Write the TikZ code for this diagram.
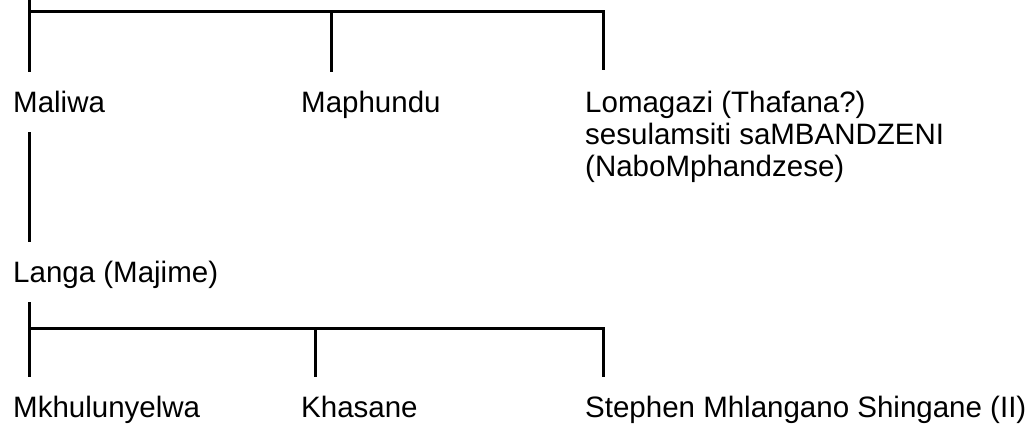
\documentclass[tikz,border=0pt]{standalone}
\usepackage{fontspec}
\setmainfont{Liberation Sans}
\usetikzlibrary{positioning}

\begin{document}
\begin{tikzpicture}[x=1pt, y=-1pt,
  person/.style={anchor=base west, inner xsep=0pt, inner ysep=20pt,
    text height=20pt, text depth=0pt, font=\fontsize{29.5}{32}\selectfont},
  link/.style={line width=3pt}
]
\useasboundingbox (0,0) rectangle (1030,424);

\node[person] (maliwa) at (13,112) {Maliwa};
\node[person] (maphundu) at (301,112) {Maphundu};
\node[person, align=left, text height=, text depth=] (lomagazi) at (585,176) {Lomagazi (Thafana?)\\sesulamsiti saMBANDZENI\\(NaboMphandzese)};
\node[person] (langa) at (13,282) {Langa (Majime)};
\node[person] (mkhulu) at (13,417) {Mkhulunyelwa};
\node[person] (khasane) at (301,417) {Khasane};
\node[person] (stephen) at (585,417) {Stephen Mhlangano Shingane (II)};

\coordinate (root) at (29,0);
\coordinate (bar1) at (29,11);
\coordinate (j1) at (331,11);
\coordinate (j2) at (603,11);
\coordinate (bar2) at (29,328);
\coordinate (k1) at (315,328);
\coordinate (k2) at (603,328);

\draw[link] (root) -- (root |- maliwa.north);
\draw[link] (bar1) -- (j2) -- (j2 |- lomagazi.north);
\draw[link] (j1) -- (j1 |- maphundu.north);
\draw[link] (root |- maliwa.south) -- (root |- langa.north);
\draw[link] (root |- langa.south) -- (root |- mkhulu.north);
\draw[link] (bar2) -- (k2) -- (k2 |- stephen.north);
\draw[link] (k1) -- (k1 |- khasane.north);
\end{tikzpicture}
\end{document}
